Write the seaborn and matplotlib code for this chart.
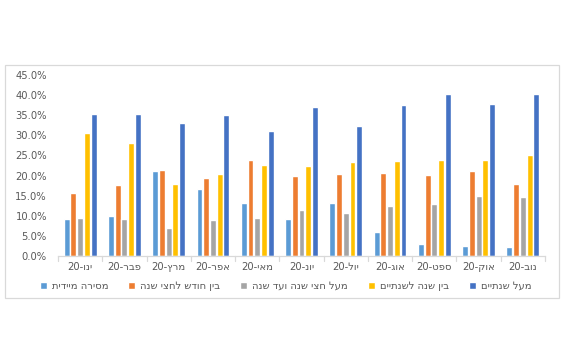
import matplotlib
matplotlib.use("Agg")
import matplotlib.pyplot as plt
from matplotlib.patches import Rectangle
from matplotlib.ticker import FuncFormatter, MultipleLocator
import pandas as pd
import seaborn as sns

# Months (logical Hebrew order) and delivery-time buckets
months = ["ינו-20", "פבר-20", "מרץ-20", "אפר-20", "מאי-20", "יונ-20",
          "יול-20", "אוג-20", "ספט-20", "אוק-20", "נוב-20"]
series_names = ["מסירה מיידית", "בין חודש לחצי שנה", "מעל חצי שנה ועד שנה",
                "בין שנה לשנתיים", "מעל שנתיים"]

immediate = [9.1, 10.0, 21.1, 16.7, 13.3, 9.1, 13.3, 6.0, 3.1, 2.6, 2.3]
month_to_half_year = [15.7, 17.6, 21.4, 19.3, 23.9, 20.0, 20.5, 20.7, 20.1, 21.1, 18.0]
half_year_to_year = [9.4, 9.1, 7.0, 8.9, 9.4, 11.4, 10.8, 12.5, 13.0, 15.0, 14.7]
year_to_two = [30.5, 28.2, 17.8, 20.3, 22.7, 22.5, 23.4, 23.5, 23.9, 23.9, 25.0]
over_two_years = [35.3, 35.3, 33.0, 35.0, 31.1, 37.0, 32.3, 37.5, 40.2, 37.9, 40.2]

colors = ["#5B9BD5", "#ED7D31", "#A5A5A5", "#FFC000", "#4472C4"]


def rtl_label(text):
    """Visual (left-to-right glyph) order for a right-to-left label."""
    if "-" in text:
        word, year = text.split("-")
        return f"{year}-{word[::-1]}"
    return text[::-1]


month_disp = [rtl_label(m) for m in months]
series_disp = [rtl_label(s) for s in series_names]

values = [immediate, month_to_half_year, half_year_to_year, year_to_two, over_two_years]
rows = []
for name, vals in zip(series_disp, values):
    for m, v in zip(month_disp, vals):
        rows.append({"month": m, "series": name, "share": v / 100.0})
df = pd.DataFrame(rows)

sns.set_theme(style="white")
plt.rcParams["font.family"] = ["DejaVu Sans"]

fig = plt.figure(figsize=(5.66, 3.49), dpi=100)
fig.patch.set_facecolor("white")

# Chart-area frame
fig.add_artist(Rectangle((5 / 566, 1 - 298 / 349), 554 / 566, 233 / 349,
                         transform=fig.transFigure, fill=False,
                         edgecolor="#D9D9D9", linewidth=0.9))

ax = fig.add_axes([58 / 566, 1 - 256 / 349, 487 / 566, 181 / 349])
sns.barplot(data=df, x="month", y="share", hue="series", order=month_disp,
            hue_order=series_disp, palette=colors, width=0.76, gap=0.12,
            saturation=1, ax=ax, legend=True)

ax.set_ylim(0, 0.45)
ax.yaxis.set_major_locator(MultipleLocator(0.05))
ax.yaxis.set_major_formatter(FuncFormatter(lambda v, _: f"{v * 100:.1f}%"))
ax.set_xlim(-0.5, len(months) - 0.5)
ax.set_xlabel("")
ax.set_ylabel("")
for side in ["top", "right", "left"]:
    ax.spines[side].set_visible(False)
ax.spines["bottom"].set_color("#D9D9D9")
ax.spines["bottom"].set_linewidth(0.9)
ax.tick_params(axis="y", length=0, labelsize=7.2, labelcolor="#595959", pad=8)
ax.tick_params(axis="x", length=0, labelsize=7.2, labelcolor="#595959", pad=4)

# Category separator ticks on the baseline
for i in range(len(months) + 1):
    ax.plot([i - 0.5, i - 0.5], [0, -0.012], color="#D9D9D9", lw=0.9,
            clip_on=False)

handles, labels = ax.get_legend_handles_labels()
ax.get_legend().remove()
fig.legend(handles, labels, loc="center", bbox_to_anchor=(0.505, 1 - 286 / 349),
           ncol=5, frameon=False, fontsize=7.2, handlelength=0.7,
           handleheight=0.7, handletextpad=0.5, columnspacing=2.0,
           labelcolor="#595959")

fig.savefig("out.png", dpi=100, facecolor="white")
